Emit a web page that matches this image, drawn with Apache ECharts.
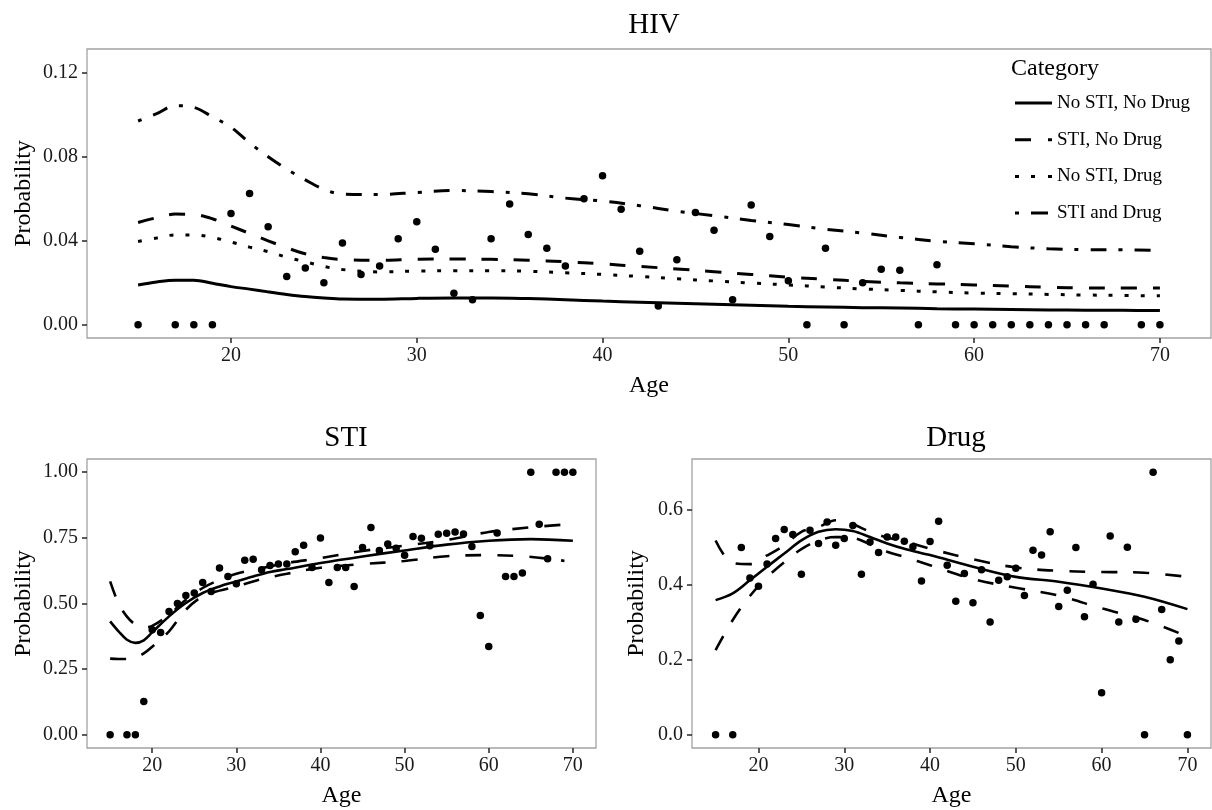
<!DOCTYPE html>
<html>
<head>
<meta charset="utf-8">
<script src="https://cdn.jsdelivr.net/npm/echarts@6/dist/echarts.min.js"></script>
<style>
html,body{margin:0;padding:0;background:#fff;}
#c{width:1212px;height:810px;}
</style>
</head>
<body>
<div id="c"></div>
<script>
// ---------- DATA ----------
const categories = ["No STI, No Drug", "STI, No Drug", "No STI, Drug", "STI and Drug"];

// HIV observed proportions
const hivAges = [15,17,18,19,20,21,22,23,24,25,26,27,28,29,30,31,32,33,34,35,36,37,38,39,40,41,42,43,44,45,46,47,48,49,50,51,52,53,54,55,56,57,58,59,60,61,62,63,64,65,66,67,69,70];
const hivObs  = [0,0,0,0,0.053,0.0625,0.0467,0.023,0.027,0.020,0.039,0.024,0.028,0.041,0.049,0.036,0.015,0.012,0.041,0.0575,0.043,0.0365,0.028,0.060,0.071,0.055,0.035,0.009,0.031,0.0535,0.045,0.012,0.057,0.042,0.021,0,0.0365,0,0.020,0.0265,0.026,0,0.0286,0,0,0,0,0,0,0,0,0,0,0];

// HIV fitted curves
const hivCurveAges = [15,16,17,18,19,20,21,22,23,24,25,26,28,30,32,34,36,38,40,42,44,46,48,50,52,54,56,58,60,62,64,66,68,70];
const hivNoSTINoDrug = [0.0190,0.0204,0.0212,0.0212,0.0198,0.0182,0.0170,0.0157,0.0145,0.0135,0.0128,0.0123,0.0122,0.0126,0.0128,0.0128,0.0125,0.0120,0.0113,0.0108,0.0103,0.0098,0.0093,0.0088,0.0085,0.0082,0.0080,0.0077,0.0075,0.0073,0.0071,0.0070,0.0069,0.0068];
const hivSTINoDrug   = [0.0487,0.0510,0.0527,0.0525,0.0505,0.0470,0.0435,0.0400,0.0367,0.0338,0.0320,0.0311,0.0307,0.0312,0.0313,0.0312,0.0308,0.0300,0.0290,0.0278,0.0266,0.0253,0.0240,0.0227,0.0217,0.0207,0.0200,0.0195,0.0190,0.0185,0.0179,0.0176,0.0175,0.0175];
const hivNoSTIDrug   = [0.0397,0.0413,0.0428,0.0428,0.0416,0.0394,0.0370,0.0348,0.0322,0.0300,0.0278,0.0263,0.0252,0.0256,0.0258,0.0258,0.0255,0.0248,0.0240,0.0230,0.0219,0.0209,0.0199,0.0190,0.0180,0.0171,0.0164,0.0157,0.0151,0.0148,0.0145,0.0142,0.0140,0.0138];
const hivSTIDrug     = [0.0970,0.1005,0.1043,0.1035,0.0990,0.0940,0.0866,0.0800,0.0741,0.0690,0.0645,0.0622,0.0620,0.0630,0.0639,0.0634,0.0624,0.0603,0.0589,0.0567,0.0541,0.0519,0.0497,0.0477,0.0455,0.0437,0.0416,0.0398,0.0386,0.0372,0.0362,0.0358,0.0357,0.0354];

// STI observed
const stiAges = [15,17,18,19,20,21,22,23,24,25,26,27,28,29,30,31,32,33,34,35,36,37,38,39,40,41,42,43,44,45,46,47,48,49,50,51,52,53,54,55,56,57,58,59,60,61,62,63,64,65,66,67,68,69,70];
const stiObs  = [0,0,0,0.127,0.40,0.39,0.47,0.50,0.53,0.54,0.58,0.546,0.635,0.603,0.575,0.665,0.668,0.628,0.645,0.65,0.65,0.697,0.722,0.637,0.749,0.58,0.637,0.637,0.565,0.713,0.789,0.702,0.726,0.71,0.684,0.755,0.748,0.72,0.764,0.767,0.772,0.765,0.717,0.454,0.336,0.768,0.603,0.603,0.616,1,0.802,0.67,1,1,1];

// STI fit + bounds
const stiCurveAges = [15,16,17,18,19,20,22,24,26,28,30,32,34,36,40,45,50,55,60,65,70];
const stiFit   = [0.432,0.394,0.362,0.350,0.360,0.390,0.451,0.502,0.540,0.565,0.584,0.603,0.620,0.631,0.654,0.679,0.702,0.724,0.739,0.745,0.739];
const stiUpper = [0.584,0.500,0.450,0.420,0.410,0.415,0.457,0.514,0.559,0.590,0.613,0.628,0.641,0.654,0.673,0.700,0.720,0.742,0.772,0.790,0.803];
const stiLowerAges = [15,16,17,18,19,20,22,24,26,28,30,32,34,36,40,45,50,55,60,64,68,69];
const stiLower = [0.290,0.289,0.289,0.295,0.310,0.335,0.394,0.476,0.527,0.549,0.565,0.584,0.600,0.613,0.636,0.650,0.662,0.680,0.684,0.680,0.667,0.662];

// Drug observed
const drugAges = [15,17,18,19,20,21,22,23,24,25,26,27,28,29,30,31,32,33,34,35,36,37,38,39,40,41,42,43,44,45,46,47,48,49,50,51,52,53,54,55,56,57,58,59,60,61,62,63,64,65,66,67,68,69,70];
const drugObs  = [0,0,0.499,0.418,0.396,0.455,0.523,0.547,0.534,0.428,0.545,0.51,0.567,0.505,0.523,0.558,0.428,0.514,0.486,0.527,0.527,0.516,0.501,0.41,0.515,0.569,0.452,0.356,0.43,0.352,0.44,0.301,0.412,0.421,0.444,0.371,0.492,0.479,0.541,0.342,0.385,0.499,0.315,0.401,0.112,0.53,0.301,0.5,0.308,0,0.70,0.334,0.2,0.25,0];

// Drug fit + bounds
const drugCurveAges = [15,17,19,21,23,25,27,29,31,33,35,37,40,45,50,55,60,65,70];
const drugFit   = [0.359,0.377,0.412,0.448,0.483,0.518,0.541,0.548,0.543,0.527,0.510,0.496,0.479,0.448,0.421,0.408,0.390,0.368,0.335];
const drugUpper = [0.518,0.458,0.455,0.478,0.505,0.541,0.554,0.572,0.561,0.541,0.526,0.516,0.496,0.468,0.446,0.437,0.434,0.432,0.421];
const drugLower = [0.226,0.306,0.370,0.420,0.460,0.495,0.518,0.527,0.525,0.508,0.488,0.474,0.452,0.415,0.392,0.371,0.337,0.306,0.262];

// tick labels
const ageTicks  = [20,30,40,50,60,70];
const hivTicks  = [0,0.04,0.08,0.12];
const stiTicks  = [0,0.25,0.5,0.75,1];
const drugTicks = [0,0.2,0.4,0.6];

// ---------- CHART ----------
const FONT = "Liberation Serif";
const pair = (xs, ys) => xs.map((x, i) => [x, ys[i]]);

const DASH = [16, 16];
const DOT = [4, 12];
const DOTDASH = [4, 12, 16, 12];

// legend key glyphs (line-type samples)
const legendIcons = [
  'path://M0,0h37v3h-37z',
  'path://M0,0h16v3h-16zM33,0h4v3h-4z',
  'path://M0,0h4v3h-4zM16,0h4v3h-4zM33,0h4v3h-4z',
  'path://M0,0h4v3h-4zM16,0h17v3h-17zM37,0v3z'
];

function xAx(gi, nameGap) {
  return {
    type: 'value', gridIndex: gi, min: 12.25, max: 72.75,
    name: 'Age', nameLocation: 'middle', nameGap: nameGap, nameMoveOverlap: false,
    nameTextStyle: {fontFamily: FONT, fontSize: 24, color: '#000'},
    axisLine: {show: false, onZero: false},
    axisTick: {show: true, length: 5, customValues: ageTicks, lineStyle: {color: '#333', width: 1.6}},
    axisLabel: {customValues: ageTicks, fontFamily: FONT, fontSize: 20, color: '#1a1a1a', margin: 8},
    splitLine: {show: false}
  };
}
function yAx(gi, min, max, ticks, dec, nameGap) {
  return {
    type: 'value', gridIndex: gi, min: min, max: max,
    name: 'Probability', nameLocation: 'middle', nameGap: nameGap, nameMoveOverlap: false,
    nameTextStyle: {fontFamily: FONT, fontSize: 24, color: '#000'},
    axisLine: {show: false, onZero: false},
    axisTick: {show: true, length: 5, customValues: ticks, lineStyle: {color: '#333', width: 1.6}},
    axisLabel: {customValues: ticks, fontFamily: FONT, fontSize: 20, color: '#1a1a1a', margin: 9,
      formatter: v => Number(v).toFixed(dec)},
    splitLine: {show: false}
  };
}
function line(name, gi, data, dash, w) {
  return {
    name: name, type: 'line', xAxisIndex: gi, yAxisIndex: gi, data: data,
    smooth: 0.35, showSymbol: false, symbol: 'none', silent: true,
    lineStyle: {color: '#000', width: w || 3, type: dash, cap: 'butt'},
    itemStyle: {color: '#000'}, z: 3
  };
}
function pts(gi, data) {
  return {
    type: 'scatter', xAxisIndex: gi, yAxisIndex: gi, data: data,
    symbol: 'circle', symbolSize: 7.5, itemStyle: {color: '#000', opacity: 1}, silent: true, z: 4
  };
}

const gridStyle = {show: true, borderColor: '#a3a3a3', borderWidth: 1.3, backgroundColor: '#fff'};

const option = {
  animation: false,
  backgroundColor: '#fff',
  textStyle: {fontFamily: FONT},
  title: [
    {text: 'HIV', left: 649, top: 6, textAlign: 'center', textStyle: {fontFamily: FONT, fontSize: 29, fontWeight: 'normal', color: '#000'}},
    {text: 'STI', left: 341, top: 419, textAlign: 'center', textStyle: {fontFamily: FONT, fontSize: 29, fontWeight: 'normal', color: '#000'}},
    {text: 'Drug', left: 951, top: 419, textAlign: 'center', textStyle: {fontFamily: FONT, fontSize: 29, fontWeight: 'normal', color: '#000'}},
    {text: 'Category', left: 1006, top: 52, textStyle: {fontFamily: FONT, fontSize: 24, fontWeight: 'normal', color: '#000'}}
  ],
  legend: {
    data: categories.map((c, i) => ({name: c, icon: legendIcons[i], itemStyle: {color: '#000', borderWidth: 0}})),
    orient: 'vertical', left: 1010, top: 88,
    itemWidth: 37, itemHeight: 3, itemGap: 16.7,
    textStyle: {fontFamily: FONT, fontSize: 19, color: '#000', lineHeight: 20, height: 20},
    selectedMode: false
  },
  grid: [
    Object.assign({left: 87, top: 49, width: 1124, height: 289}, gridStyle),
    Object.assign({left: 87, top: 459, width: 509, height: 289}, gridStyle),
    Object.assign({left: 692, top: 459, width: 519, height: 289}, gridStyle)
  ],
  xAxis: [xAx(0, 36), xAx(1, 36), xAx(2, 36)],
  yAxis: [
    yAx(0, -0.00625, 0.13125, hivTicks, 2, 51),
    yAx(1, -0.05, 1.05, stiTicks, 2, 51),
    yAx(2, -0.035, 0.735, drugTicks, 1, 43)
  ],
  series: [
    line(categories[0], 0, pair(hivCurveAges, hivNoSTINoDrug), 'solid'),
    line(categories[1], 0, pair(hivCurveAges, hivSTINoDrug), DASH),
    line(categories[2], 0, pair(hivCurveAges, hivNoSTIDrug), DOT),
    line(categories[3], 0, pair(hivCurveAges, hivSTIDrug), DOTDASH),
    pts(0, pair(hivAges, hivObs)),
    line('sti fit', 1, pair(stiCurveAges, stiFit), 'solid', 2.6),
    line('sti upper', 1, pair(stiCurveAges, stiUpper), DASH, 2.6),
    line('sti lower', 1, pair(stiLowerAges, stiLower), DASH, 2.6),
    pts(1, pair(stiAges, stiObs)),
    line('drug fit', 2, pair(drugCurveAges, drugFit), 'solid', 2.6),
    line('drug upper', 2, pair(drugCurveAges, drugUpper), DASH, 2.6),
    line('drug lower', 2, pair(drugCurveAges, drugLower), DASH, 2.6),
    pts(2, pair(drugAges, drugObs))
  ]
};

const chart = echarts.init(document.getElementById('c'), null, {renderer: 'canvas'});
chart.setOption(option);
</script>
</body>
</html>
